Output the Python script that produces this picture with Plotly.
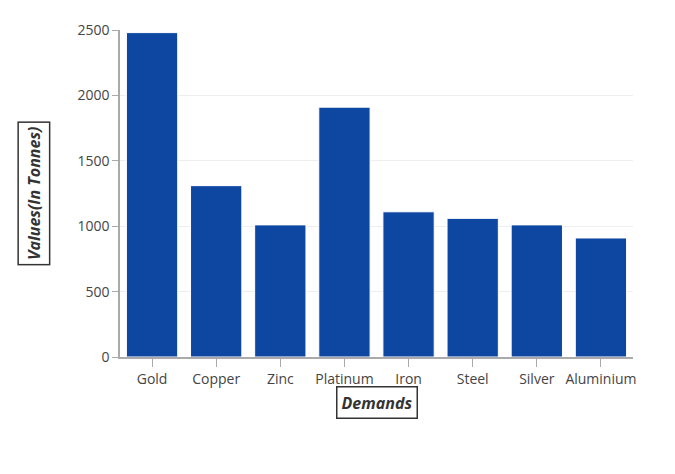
import plotly.graph_objects as go

categories = ["Gold", "Copper", "Zinc", "Platinum", "Iron", "Steel", "Silver", "Aluminium"]
values = [2480, 1310, 1010, 1910, 1110, 1060, 1010, 910]

fig = go.Figure(go.Bar(x=categories, y=values, marker_color="#0D47A1",
                       marker_line_color="white", marker_line_width=1, width=0.8))
fig.update_layout(
    width=675, height=474, plot_bgcolor="white", paper_bgcolor="white",
    margin=dict(l=112, r=50, t=14, b=125), showlegend=False,
    font=dict(family="Open Sans, sans-serif", size=14, color="#333"),
    bargap=0.2,
)
fig.update_xaxes(showline=True, linecolor="#aaa", linewidth=1.5, ticks="outside",
                 tickcolor="#aaa", ticklen=8, tickfont=dict(size=14, color="#444"))
fig.update_yaxes(range=[0, 2500], dtick=500, showline=True, linecolor="#aaa", linewidth=1.5,
                 ticks="outside", tickcolor="#aaa", ticklen=6, gridcolor="#eee",
                 tickfont=dict(size=14, color="#444"))
fig.add_annotation(text="<b><i>Demands</i></b>", xref="paper", yref="paper", x=0.5, y=-0.19,
                   showarrow=False, font=dict(size=16, color="#333"), bordercolor="#333",
                   borderwidth=1.5, borderpad=4, bgcolor="white")
fig.add_annotation(text="<b><i>Values(In Tonnes)</i></b>", xref="paper", yref="paper", x=-0.2, y=0.5,
                   textangle=-90, showarrow=False, font=dict(size=16, color="#333"),
                   bordercolor="#333", borderwidth=1.5, borderpad=4, bgcolor="white")
fig.write_html("out.html")
